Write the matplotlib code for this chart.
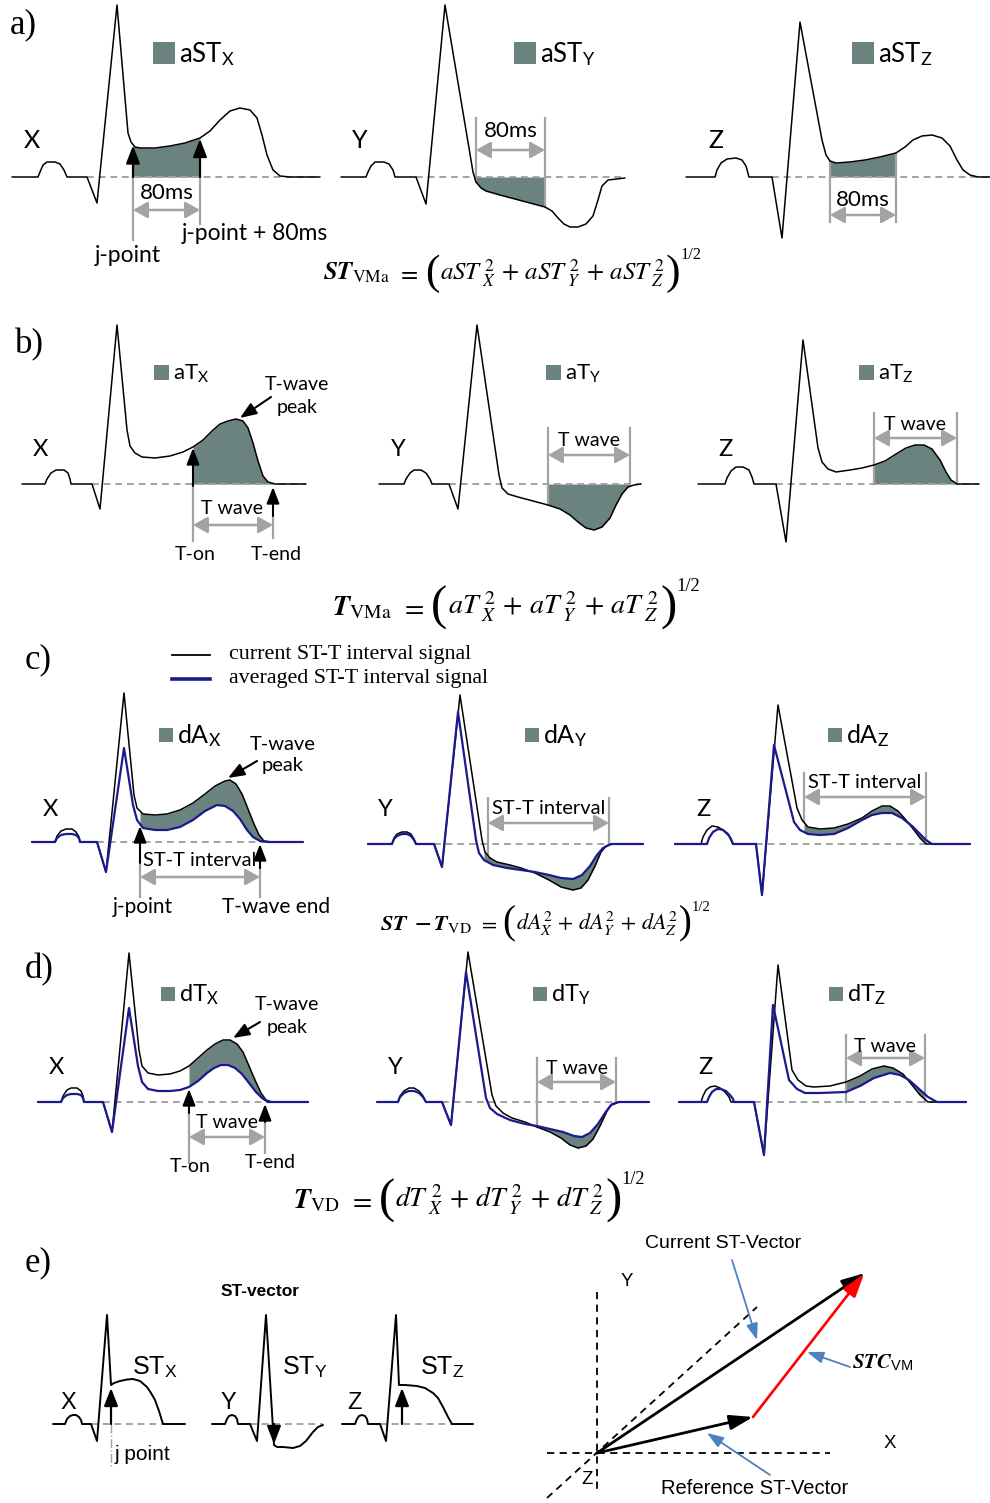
import numpy as np
import matplotlib
matplotlib.use('Agg')
import matplotlib.pyplot as plt
from matplotlib.patches import Rectangle

plt.rcParams['mathtext.fontset'] = 'stix'

# ---------------- waveform data: (time, amplitude) samples ----------------
# panel a : ST area (aST)
A_X = [(0,0),(26,0),(28,5),(31,12),(35,15),(43,15),(48,13),(52,7),(55,0),(75,0),(85,-26),(105,172),(116,44),(119,35),(123,30),(128,29),(143,29),(158,31),(173,34),(188,39),(198,46),(208,57),(218,66),(228,69),(238,67),(245,59),(250,42),(255,22),(261,7),(268,1),(278,0),(308,0)]
A_Y = [(0,0),(25,0),(27,5),(30,11),(34,15),(43,15),(48,13),(52,7),(54,0),(75,0),(85,-27),(104,172),(132,5),(135,-5),(140,-11),(145,-14),(159,-18),(174,-22),(189,-26),(204,-30),(211,-34),(217,-41),(223,-47),(229,-50),(237,-50),(245,-47),(252,-39),(257,-23),(261,-9),(267,-3),(284,-1)]
A_Z = [(0,0),(29,0),(31,7),(35,14),(41,18),(50,19),(56,17),(60,11),(63,0),(86,0),(96,-61),(114,155),(136,37),(140,22),(144,16),(150,14),(164,15),(179,17),(194,20),(210,24),(219,30),(227,37),(236,41),(246,42),(256,39),(264,31),(271,17),(277,7),(284,2),(292,0),(304,0)]
A_MARKS = [(121, 188), (135, 204), (144, 210)]   # j-point, j-point + 80ms

# panel b : T-wave area (aT)
B_X = [(0,0),(23,0),(25,5),(29,11),(34,14),(42,14),(46,11),(48,5),(49,0),(70,0),(78,-25),(95,159),(105,54),(108,38),(113,31),(120,27),(133,26),(148,28),(161,32),(171,37),(181,44),(190,53),(198,60),(206,63),(214,65),(221,63),(226,56),(231,41),(236,23),(241,8),(246,2),(253,0),(284,0)]
B_Y = [(0,0),(25,0),(27,5),(31,11),(35,14),(42,14),(47,11),(51,5),(53,0),(70,0),(79,-25),(98,159),(120,9),(123,-4),(129,-10),(139,-13),(154,-17),(169,-21),(181,-25),(191,-31),(199,-38),(207,-44),(215,-46),(223,-43),(231,-34),(237,-21),(243,-10),(249,-3),(255,-1),(262,0)]
B_Z = [(0,0),(27,0),(29,6),(33,13),(38,17),(45,17),(51,14),(54,7),(56,0),(78,0),(88,-58),(105,144),(120,36),(124,22),(130,15),(138,12),(152,14),(164,16),(176,19),(187,23),(198,30),(208,36),(217,39),(226,39),(234,35),(242,24),(248,12),(253,4),(259,0),(281,0)]
B_MARKS = [(171, 251), (169, 251), (176, 259)]   # T-on, T-end

# panel c : ST-T difference (dA), current vs averaged
C_X_CUR = [(0,0),(23,0),(25,6),(29,11),(34,13),(40,13),(44,10),(47,5),(48,0),(65,0),(74,-30),(92,149),(102,47),(105,34),(111,28),(123,27),(135,28),(148,32),(161,39),(173,48),(183,56),(193,61),(198,62),(204,58),(210,48),(216,33),(222,18),(227,7),(232,1),(240,0),(271,0)]
C_X_AVG = [(0,0),(23,0),(25,4),(29,7),(34,8),(40,8),(44,7),(47,4),(48,0),(65,0),(74,-30),(92,94),(101,37),(105,22),(111,14),(123,12),(135,12),(148,15),(161,22),(173,31),(185,37),(193,36),(201,31),(208,23),(215,12),(221,5),(228,1),(236,0),(271,0)]
C_Y_CUR = [(0,0),(24,0),(26,6),(29,10),(34,12),(39,12),(43,10),(46,5),(48,0),(66,0),(74,-23),(92,149),(114,4),(117,-8),(122,-14),(129,-18),(142,-21),(153,-24),(167,-29),(181,-36),(193,-43),(205,-46),(213,-44),(220,-36),(227,-22),(233,-8),(238,-2),(244,0),(275,0)]
C_Y_AVG = [(0,0),(24,0),(26,5),(29,8),(34,10),(39,10),(43,8),(46,4),(48,0),(66,0),(74,-23),(90,132),(108,4),(111,-9),(116,-16),(125,-21),(139,-24),(153,-26),(167,-28),(181,-31),(193,-34),(205,-35),(214,-31),(222,-22),(229,-11),(235,-4),(243,0),(275,0)]
C_Z_CUR = [(0,0),(26,0),(28,7),(32,14),(37,18),(43,17),(48,14),(54,8),(58,0),(81,0),(87,-51),(103,139),(122,36),(127,24),(133,17),(145,15),(159,16),(173,20),(187,26),(197,33),(207,38),(215,38),(223,33),(231,24),(239,14),(245,6),(251,0),(295,0)]
C_Z_AVG = [(0,0),(32,0),(34,6),(38,12),(43,15),(48,14),(53,10),(56,5),(58,0),(81,0),(87,-51),(99,99),(119,22),(125,14),(133,10),(145,9),(159,10),(173,16),(187,24),(197,29),(207,31),(217,31),(227,26),(237,18),(245,10),(251,4),(257,0),(295,0)]
C_MARKS = [(108, 232), (116, 241), (129, 251)]   # j-point, T-wave end

# panel d : T-wave difference (dT), current vs averaged
D_X_CUR = [(0,0),(23,0),(25,6),(29,12),(33,14),(39,14),(43,11),(45,6),(46,0),(65,0),(74,-30),(91,149),(101,52),(104,36),(110,29),(120,27),(132,28),(142,31),(151,36),(160,44),(169,52),(177,58),(185,62),(192,62),(199,58),(205,50),(211,36),(217,22),(223,9),(228,2),(234,0),(270,0)]
D_X_AVG = [(0,0),(23,0),(25,4),(29,7),(33,8),(39,8),(43,7),(45,4),(46,0),(65,0),(74,-30),(91,94),(100,36),(104,20),(110,13),(120,11),(132,11),(142,12),(151,15),(160,21),(169,29),(176,34),(183,37),(190,37),(197,34),(204,28),(211,19),(218,10),(224,4),(230,0),(270,0)]
D_Y_CUR = [(0,0),(21,0),(23,6),(27,11),(32,14),(37,14),(42,11),(46,6),(49,0),(65,0),(74,-23),(91,150),(115,7),(119,-4),(126,-11),(135,-16),(148,-20),(160,-25),(173,-30),(184,-36),(193,-43),(201,-46),(209,-44),(216,-37),(223,-24),(230,-9),(235,-2),(241,0),(272,0)]
D_Y_AVG = [(0,0),(21,0),(23,5),(27,9),(32,11),(37,11),(42,9),(46,5),(49,0),(65,0),(74,-23),(89,130),(109,4),(113,-6),(120,-12),(133,-18),(148,-22),(160,-24),(173,-27),(186,-30),(197,-34),(205,-35),(213,-31),(221,-22),(228,-11),(234,-3),(242,0),(272,0)]
D_Z_CUR = [(0,0),(22,0),(24,6),(27,12),(31,15),(36,16),(41,14),(46,10),(50,5),(52,0),(75,0),(85,-53),(99,137),(113,32),(119,22),(127,16),(135,15),(151,16),(167,20),(181,26),(193,33),(205,36),(214,34),(224,28),(233,17),(241,7),(249,0),(287,0)]
D_Z_AVG = [(0,0),(28,0),(30,5),(33,10),(37,13),(42,13),(47,11),(51,7),(54,3),(55,0),(75,0),(85,-53),(94,97),(110,22),(118,13),(126,9),(141,9),(167,10),(181,16),(195,24),(211,29),(221,27),(230,22),(239,14),(249,5),(258,0),(287,0)]
D_MARKS = [(151, 227), (160, 239), (167, 246)]   # T-on, T-end

# panel e : ST vector
E_X = [(0,0),(12,0),(14,5),(17,8),(20,9),(23,9),(26,7),(28,4),(29,0),(38,0),(44,-17),(54,109),(58,39),(61,41),(67,43),(74,44.5),(80,45),(87,43),(94,37),(98,31),(102,24),(106,13),(110,0),(132,0)]
E_Y = [(0,0),(13,0),(15,5),(17,8),(20,9),(23,8),(25,5),(26,0),(38,0),(45,-17),(54,109),(62,-21),(65,-23),(71,-23),(81,-24),(88,-22),(94,-17),(101,-8),(106,-3),(111,-1)]
E_Z = [(0,0),(13,0),(15,5),(17,8),(20,9),(23,8),(25,5),(26,0),(38,0),(44,-17),(54,109),(57,39),(63,39),(75,38),(83,36),(91,31),(96,26),(101,17),(106,7),(110,0),(131,0)]
E_MARKS = [58, 62, 60]                       # j point in each lead
REF_VEC = (156, 36)                          # reference ST-vector (x, y)
CUR_VEC = (268, 180)                         # current ST-vector (x, y)

LEADS = ['X', 'Y', 'Z']

# ---------------- styles ----------------
FILL = '#6b837e'
GRAY = '#a3a3a3'
NAVY = '#1a1a8c'
ANN = '#4f81bd'
SANS = 'Lato'
ARIAL = 'Liberation Sans'
SERIF = 'Liberation Serif'

fig = plt.figure(figsize=(9.9, 15.03), dpi=100)
ax = fig.add_axes([0, 0, 1, 1])
ax.set_xlim(0, 990)
ax.set_ylim(1503, 0)
ax.axis('off')
RENDERER = fig.canvas.get_renderer()


def place(pts, ox, oy):
    a = np.asarray(pts, float)
    return ox + a[:, 0], oy - a[:, 1]


def wave(pts, ox, oy, color='black', lw=1.1, z=4):
    x, y = place(pts, ox, oy)
    ax.plot(x, y, color=color, lw=lw, zorder=z, solid_joinstyle='round', solid_capstyle='round')
    return x, y


def at(pts, ox, oy, t):
    x, y = place(pts, ox, oy)
    return float(np.interp(ox + t, x, y))


def baseline(pts, ox, oy):
    a = np.asarray(pts, float)
    i = int(np.argmax(a[:, 1] < 0)) - 1
    ax.plot([ox + a[i, 0], ox + a[-1, 0]], [oy, oy], color=GRAY, lw=1.4,
            ls=(0, (3.5, 2.5)), zorder=2)


def shade_base(pts, ox, oy, t0, t1):
    x, y = place(pts, ox, oy)
    xs = np.concatenate([[ox + t0], x[(x > ox + t0) & (x < ox + t1)], [ox + t1]])
    ax.fill_between(xs, np.interp(xs, x, y), oy, color=FILL, lw=0, zorder=1)


def shade_between(p1, p2, ox, oy, t0, t1):
    x1, y1 = place(p1, ox, oy)
    x2, y2 = place(p2, ox, oy)
    xs = np.unique(np.concatenate([[ox + t0, ox + t1], x1, x2]))
    xs = xs[(xs >= ox + t0) & (xs <= ox + t1)]
    ax.fill_between(xs, np.interp(xs, x1, y1), np.interp(xs, x2, y2), color=FILL, lw=0, zorder=1)


def arrow(x0, y0, x1, y1, color='black', lw=1.5, style='-|>', ms=12, hl=0.8, hw=0.35, z=6):
    ax.annotate('', xy=(x1, y1), xytext=(x0, y0),
                arrowprops=dict(arrowstyle=f'{style},head_length={hl},head_width={hw}',
                                color=color, lw=lw, shrinkA=0, shrinkB=0, mutation_scale=ms),
                zorder=z)


def vline(x, y0, y1):
    ax.plot([x, x], [y0, y1], color=GRAY, lw=1.6, zorder=3)


def dim(x0, x1, y):
    arrow(x0, y, x1, y, color=GRAY, lw=1.8, style='<|-|>', ms=11, hl=0.8, hw=0.45, z=3)


def legend_box(x, y, size, label, fs):
    ax.add_patch(Rectangle((x, y), size, size, color=FILL, lw=0, zorder=2))
    ax.text(x + size + 4, y + size / 2 + 1, label, family=SANS, fontsize=fs, va='center', ha='left')


def txt(x, y, s, fs=14, ha='center', va='center', family=SANS, **kw):
    ax.text(x, y, s, fontsize=fs, ha=ha, va=va, family=family, **kw)


def formula(xc, yb, width, head, body, fs=20):
    # head = (bold-italic) left side, body = sum inside the big parentheses
    parts = [(head, 1.0, 0.0, 0.0), (r'$=$', 1.0, 0.0, 0.3), ('(', 1.75, 0.16, 0.25),
             (body, 1.0, 0.0, 0.02), (')', 1.75, 0.16, 0.04), ('1/2', 0.66, -0.86, 0.0)]
    ts = [ax.text(0, yb, s, fontsize=fs * rs, family=SERIF, va='baseline', ha='left')
          for s, rs, dy, g in parts]

    def total(k):
        return sum(t.get_window_extent(RENDERER).width for t in ts) + \
            sum(g for *_, g in parts) * fs * k * 100 / 72

    k = width / total(1.0)
    for t, (s, rs, dy, g) in zip(ts, parts):
        t.set_fontsize(fs * k * rs)
    k2 = width / total(k) * k
    for t, (s, rs, dy, g) in zip(ts, parts):
        t.set_fontsize(fs * k2 * rs)
    em = fs * k2 * 100 / 72
    x = xc - total(k2) / 2
    for t, (s, rs, dy, g) in zip(ts, parts):
        x += g * em
        t.set_position((x, yb + dy * em))
        x += t.get_window_extent(RENDERER).width


# ================= panel a =================
txt(10, 25, 'a)', fs=25, ha='left', family=SERIF)
orig_a = [(12, 177), (341, 177), (686, 177)]
for pts, (ox, oy), (t0, t1) in zip([A_X, A_Y, A_Z], orig_a, A_MARKS):
    shade_base(pts, ox, oy, t0, t1)
    baseline(pts, ox, oy)
    wave(pts, ox, oy)
ox, oy = orig_a[0]
t0, t1 = A_MARKS[0]
for t in (t0, t1):
    arrow(ox + t, oy, ox + t, at(A_X, ox, oy, t) + 1, lw=1.6, ms=12, hl=0.9, hw=0.35)
vline(ox + t0, oy, 240)
vline(ox + t1, oy, 224)
dim(ox + t0, ox + t1, 210)
txt(ox + (t0 + t1) / 2, 193, '80ms', fs=16)
txt(128, 256, 'j-point', fs=16.5)
txt(255, 233, 'j-point + 80ms', fs=16.5)
ox, oy = orig_a[1]
t0, t1 = A_MARKS[1]
vline(ox + t0, 118, at(A_Y, ox, oy, t0))
vline(ox + t1, 118, at(A_Y, ox, oy, t1))
dim(ox + t0, ox + t1, 150)
txt(ox + (t0 + t1) / 2, 131, '80ms', fs=16)
ox, oy = orig_a[2]
t0, t1 = A_MARKS[2]
vline(ox + t0, at(A_Z, ox, oy, t0), 222)
vline(ox + t1, at(A_Z, ox, oy, t1), 222)
dim(ox + t0, ox + t1, 215)
txt(ox + (t0 + t1) / 2, 200, '80ms', fs=16)
for (lx, ly), lead in zip([(32, 140), (360, 141), (716, 140)], LEADS):
    txt(lx, ly, lead, fs=18)
for bx, lead in zip([153, 514, 852], LEADS):
    legend_box(bx, 42, 22, r'aST$_\mathregular{%s}$' % lead, 18.5)
formula(512, 280, 378, r'$\mathbfit{ST}_{\mathrm{VMa}}$',
        r'$aST_{\;X}^{\;2}\,+\,aST_{\;Y}^{\;2}\,+\,aST_{\;Z}^{\;2}$')

# ================= panel b =================
txt(15, 345, 'b)', fs=25, ha='left', family=SERIF)
orig_b = [(22, 484), (379, 484), (698, 484)]
for pts, (ox, oy), (t0, t1) in zip([B_X, B_Y, B_Z], orig_b, B_MARKS):
    shade_base(pts, ox, oy, t0, t1)
    baseline(pts, ox, oy)
    wave(pts, ox, oy)
ox, oy = orig_b[0]
t0, t1 = B_MARKS[0]
arrow(ox + t0, oy + 2, ox + t0, at(B_X, ox, oy, t0) + 1, lw=1.5, ms=11, hl=0.9, hw=0.35)
arrow(ox + t1, 516, ox + t1, oy + 3, lw=1.5, ms=11, hl=0.9, hw=0.35)
vline(ox + t0, oy, 541)
vline(ox + t1, 516, 538)
dim(ox + t0, ox + t1, 525)
txt(ox + (t0 + t1) / 2 - 1, 509, 'T wave', fs=14)
txt(195, 554, 'T-on', fs=14)
txt(276, 554, 'T-end', fs=14)
txt(297, 384, 'T-wave', fs=14)
txt(297, 407, 'peak', fs=14)
arrow(271, 397, 240, 418, lw=1.5, ms=11, hl=0.9, hw=0.35)
ox, oy = orig_b[1]
t0, t1 = B_MARKS[1]
vline(ox + t0, 428, at(B_Y, ox, oy, t0))
vline(ox + t1, 428, oy + 1)
dim(ox + t0, ox + t1, 455)
txt(ox + (t0 + t1) / 2, 440, 'T wave', fs=14)
ox, oy = orig_b[2]
t0, t1 = B_MARKS[2]
vline(ox + t0, 413, oy)
vline(ox + t1, 413, oy)
dim(ox + t0, ox + t1, 438)
txt(ox + (t0 + t1) / 2, 424, 'T wave', fs=14)
for (lx, ly), lead in zip([(40, 450), (398, 450), (725, 450)], LEADS):
    txt(lx, ly, lead, fs=17)
for bx, lead in zip([154, 546, 859], LEADS):
    legend_box(bx, 365, 15, r'aT$_\mathregular{%s}$' % lead, 16)
formula(516, 615, 367, r'$\mathbfit{T}_{\mathrm{VMa}}$',
        r'$aT_{\;X}^{\;2}\,+\,aT_{\;Y}^{\;2}\,+\,aT_{\;Z}^{\;2}$')

# ================= panel c =================
txt(25, 660, 'c)', fs=25, ha='left', family=SERIF)
ax.plot([172, 210], [655, 655], color='black', lw=1.3)
ax.plot([172, 210], [679, 679], color=NAVY, lw=2.6)
txt(229, 654, 'current ST-T interval signal', fs=15.8, ha='left', family=SERIF)
txt(229, 679, 'averaged ST-T interval signal', fs=15.8, ha='left', family=SERIF)
orig_c = [(32, 842), (368, 844), (675, 844)]
for cur, avg, (ox, oy), (t0, t1) in zip([C_X_CUR, C_Y_CUR, C_Z_CUR], [C_X_AVG, C_Y_AVG, C_Z_AVG], orig_c, C_MARKS):
    shade_between(cur, avg, ox, oy, t0, t1)
    baseline(cur, ox, oy)
    wave(cur, ox, oy, lw=1.1)
    wave(avg, ox, oy, color=NAVY, lw=1.6, z=5)
ox, oy = orig_c[0]
t0, t1 = C_MARKS[0]
arrow(ox + t0, 863, ox + t0, at(C_X_AVG, ox, oy, t0) + 2, lw=1.5, ms=11, hl=0.9, hw=0.35)
arrow(ox + t1 - 4, 868, ox + t1 - 4, oy + 2, lw=1.5, ms=11, hl=0.9, hw=0.35)
vline(ox + t0, 863, 897)
vline(ox + t1 - 4, 868, 897)
dim(ox + t0, ox + t1 - 4, 877)
txt(ox + (t0 + t1 - 4) / 2, 861, 'ST-T interval', fs=14.5)
txt(143, 907, 'j-point', fs=15)
txt(276, 907, 'T-wave end', fs=15)
txt(283, 744, 'T-wave', fs=14.5)
txt(283, 766, 'peak', fs=14.5)
arrow(257, 761, 228, 778, lw=1.5, ms=11, hl=0.9, hw=0.35)
ox, oy = orig_c[1]
t0, t1 = C_MARKS[1]
vline(ox + t0 + 4, 798, at(C_Y_CUR, ox, oy, t0 + 4))
vline(ox + t1, 798, oy)
dim(ox + t0 + 4, ox + t1, 823)
txt(ox + (t0 + 4 + t1) / 2, 808, 'ST-T interval', fs=14.5)
ox, oy = orig_c[2]
t0, t1 = C_MARKS[2]
vline(ox + t0, 773, at(C_Z_CUR, ox, oy, t0))
vline(ox + t1, 773, oy)
dim(ox + t0, ox + t1, 797)
txt(ox + (t0 + t1) / 2, 783, 'ST-T interval', fs=14.5)
for (lx, ly), lead in zip([(50, 810), (385, 810), (703, 810)], LEADS):
    txt(lx, ly, lead, fs=17)
for bx, lead in zip([159, 525, 828], LEADS):
    legend_box(bx, 728, 14, r'dA$_\mathregular{%s}$' % lead, 18)
formula(545, 930, 330, r'$\mathbfit{ST}\;\;\mathbf{-}\,\mathbfit{T}_{\mathrm{VD}}$',
        r'$dA_{X}^{2}\,+\,dA_{Y}^{2}\,+\,dA_{Z}^{2}$')

# ================= panel d =================
txt(25, 970, 'd)', fs=25, ha='left', family=SERIF)
orig_d = [(38, 1102), (377, 1102), (679, 1102)]
for cur, avg, (ox, oy), (t0, t1) in zip([D_X_CUR, D_Y_CUR, D_Z_CUR], [D_X_AVG, D_Y_AVG, D_Z_AVG], orig_d, D_MARKS):
    shade_between(cur, avg, ox, oy, t0, t1)
    baseline(cur, ox, oy)
    wave(cur, ox, oy, lw=1.1)
    wave(avg, ox, oy, color=NAVY, lw=1.6, z=5)
ox, oy = orig_d[0]
t0, t1 = D_MARKS[0]
arrow(ox + t0, 1113, ox + t0, at(D_X_AVG, ox, oy, t0) + 2, lw=1.5, ms=11, hl=0.9, hw=0.35)
arrow(ox + t1, 1122, ox + t1, oy + 2, lw=1.5, ms=11, hl=0.9, hw=0.35)
vline(ox + t0, 1113, 1163)
vline(ox + t1, 1122, 1153)
dim(ox + t0, ox + t1, 1137)
txt(ox + (t0 + t1) / 2, 1123, 'T wave', fs=14)
txt(190, 1166, 'T-on', fs=14)
txt(270, 1163, 'T-end', fs=14)
txt(287, 1005, 'T-wave', fs=14)
txt(287, 1027, 'peak', fs=14)
arrow(260, 1022, 233, 1038, lw=1.5, ms=11, hl=0.9, hw=0.35)
ox, oy = orig_d[1]
t0, t1 = D_MARKS[1]
vline(ox + t0, 1058, at(D_Y_CUR, ox, oy, t0))
vline(ox + t1, 1058, oy)
dim(ox + t0, ox + t1, 1082)
txt(ox + (t0 + t1) / 2, 1068, 'T wave', fs=14)
ox, oy = orig_d[2]
t0, t1 = D_MARKS[2]
vline(ox + t0, 1035, oy)
vline(ox + t1, 1035, oy)
dim(ox + t0, ox + t1, 1058)
txt(ox + (t0 + t1) / 2, 1046, 'T wave', fs=14)
for (lx, ly), lead in zip([(56, 1068), (395, 1068), (705, 1068)], LEADS):
    txt(lx, ly, lead, fs=17)
for bx, lead in zip([161, 533, 829], LEADS):
    legend_box(bx, 987, 14, r'dT$_\mathregular{%s}$' % lead, 17)
formula(469, 1208, 352, r'$\mathbfit{T}_{\mathrm{VD}}$',
        r'$dT_{\;X}^{\;2}\,+\,dT_{\;Y}^{\;2}\,+\,dT_{\;Z}^{\;2}$')

# ================= panel e =================
txt(25, 1263, 'e)', fs=25, ha='left', family=SERIF)
txt(260, 1292, 'ST-vector', fs=12.5, family=ARIAL, weight='bold')
orig_e = [(53, 1424), (212, 1424), (342, 1424)]
for pts, (ox, oy) in zip([E_X, E_Y, E_Z], orig_e):
    baseline(pts, ox, oy)
    wave(pts, ox, oy, lw=1.4)
for pts, (ox, oy), t in zip([E_X, E_Y, E_Z], orig_e, E_MARKS):
    yv = at(pts, ox, oy, t)
    tip = yv + (3 if yv < oy else -1)
    arrow(ox + t, oy, ox + t, tip, lw=1.6, ms=12, hl=0.9, hw=0.35)
ox, oy = orig_e[0]
ax.plot([ox + E_MARKS[0]] * 2, [oy, 1467], color=GRAY, lw=1.0, ls='-.', zorder=2)
txt(115, 1455, 'j point', fs=15, ha='left', family=ARIAL)
for (lx, ly), lead in zip([(132, 1367), (282, 1367), (420, 1367)], LEADS):
    txt(lx, ly, r'ST$_\mathregular{%s}$' % lead, fs=18, ha='left', family=ARIAL)
for (lx, ly), lead in zip([(68, 1403), (228, 1403), (355, 1403)], LEADS):
    txt(lx, ly, lead, fs=17, family=ARIAL)

# vector diagram
O = (597, 1453)
dash = dict(color='black', lw=1.3, ls=(0, (4, 3)), zorder=2)
ax.plot([O[0], O[0]], [1292, 1493], **dash)
ax.plot([547, 830], [O[1], O[1]], **dash)
ax.plot([547, 757], [1498, 1307], **dash)
ref_end = (O[0] + REF_VEC[0], O[1] - REF_VEC[1])
cur_end = (O[0] + CUR_VEC[0], O[1] - CUR_VEC[1])
arrow(O[0], O[1], cur_end[0], cur_end[1], lw=2.0, ms=14, hl=1.0, hw=0.32)
arrow(O[0], O[1], ref_end[0], ref_end[1], lw=2.0, ms=14, hl=1.0, hw=0.32)
arrow(ref_end[0], ref_end[1], cur_end[0] - 1, cur_end[1] + 1, color='red', lw=1.9, ms=14, hl=1.0, hw=0.32, z=7)
arrow(732, 1260, 757, 1340, color=ANN, lw=1.3, ms=11, hl=0.9, hw=0.32)
arrow(850, 1367, 807, 1352, color=ANN, lw=1.3, ms=11, hl=0.9, hw=0.32)
arrow(770, 1475, 707, 1433, color=ANN, lw=1.3, ms=11, hl=0.9, hw=0.32)
txt(723, 1243, 'Current ST-Vector', fs=14, family=ARIAL)
txt(755, 1488, 'Reference ST-Vector', fs=14.5, family=ARIAL)
txt(852, 1363, r'$\mathbfit{STC}_{\mathregular{VM}}$', fs=15, ha='left', family=ARIAL)
txt(627, 1282, 'Y', fs=13.5, family=ARIAL)
txt(890, 1443, 'X', fs=13.5, family=ARIAL)
txt(587, 1480, 'Z', fs=13.5, family=ARIAL)

fig.savefig('out.png', dpi=100)
